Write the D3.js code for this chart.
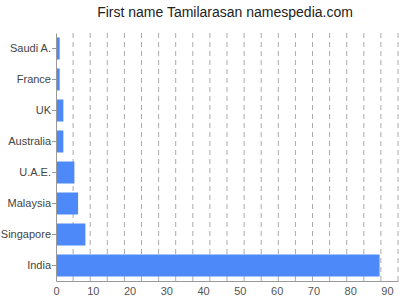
<!DOCTYPE html>
<html>
<head>
<meta charset="utf-8">
<script src="https://d3js.org/d3.v7.min.js"></script>
<style>
  body { margin: 0; background: #fff; }
  text { font-family: "Liberation Sans", Arial, sans-serif; }
</style>
</head>
<body>
<svg id="drawing_region"></svg>
<script>
var countries = ['Saudi A.', 'France', 'UK', 'Australia', 'U.A.E.', 'Malaysia', 'Singapore', 'India'];
var counts = [1, 1, 2, 2, 5, 6, 8, 88];
var tick_values = [0, 10, 20, 30, 40, 50, 60, 70, 80, 90];
var x_max = 93;
var grid_count = 20;

var data = countries.map((c, i) => ({ label: c, value: counts[i] }));

var config = {
    parent: '#drawing_region',
    width: 400,
    height: 300,
    margin: {top:33, right:2, bottom:19, left:56}
};

class BarChart {
    constructor( config, data ) {
        this.config = config;
        this.data = data;
        this.init();
    }

    init() {
        let self = this;

        self.svg = d3.select( self.config.parent )
            .attr('width', self.config.width)
            .attr('height', self.config.height);

        self.chart = self.svg.append('g')
            .attr('transform', `translate(${self.config.margin.left}, ${self.config.margin.top})`);

        self.inner_width = self.config.width - self.config.margin.left - self.config.margin.right;
        self.inner_height = self.config.height - self.config.margin.top - self.config.margin.bottom;

        self.xscale = d3.scaleLinear()
            .domain([0, x_max])
            .range([0, self.inner_width]);

        self.yscale = d3.scaleBand()
            .domain(self.data.map(d => d.label))
            .range([0, self.inner_height])
            .paddingInner(0.29)
            .paddingOuter(0.145);

        self.svg.append('text')
            .attr('x', 225)
            .attr('y', 17)
            .attr('text-anchor', 'middle')
            .attr('font-size', '14px')
            .attr('fill', '#222')
            .text('First name Tamilarasan namespedia.com');
    }

    render() {
        let self = this;

        // dashed grid, 20 even steps across the plot
        const grid = d3.range(1, grid_count + 1).map(i => i * x_max / grid_count);
        self.chart.append('g')
            .selectAll('line')
            .data(grid)
            .join('line')
            .attr('x1', d => self.xscale(d))
            .attr('x2', d => self.xscale(d))
            .attr('y1', 0)
            .attr('y2', self.inner_height)
            .attr('stroke', '#aaa')
            .attr('stroke-dasharray', '5,4');

        self.chart.selectAll('rect')
            .data(self.data)
            .join('rect')
            .attr('x', 0)
            .attr('y', d => self.yscale(d.label))
            .attr('width', d => self.xscale(d.value))
            .attr('height', self.yscale.bandwidth())
            .attr('fill', '#4e89f9');

        const xaxis = d3.axisBottom(self.xscale)
            .tickValues(tick_values)
            .tickSize(0)
            .tickPadding(6);

        const xg = self.chart.append('g')
            .attr('transform', `translate(0, ${self.inner_height})`)
            .call(xaxis);
        xg.select('.domain').attr('stroke', '#999');
        xg.selectAll('text').attr('font-size', '11px').attr('fill', '#555')
            .attr('font-family', '"Liberation Sans", Arial, sans-serif');

        const yaxis = d3.axisLeft(self.yscale)
            .tickSize(4)
            .tickSizeOuter(0)
            .tickPadding(1);

        const yg = self.chart.append('g').call(yaxis);
        yg.select('.domain').attr('stroke', '#999');
        yg.selectAll('line').attr('stroke', '#999');
        yg.selectAll('text').attr('font-size', '11px').attr('fill', '#444')
            .attr('font-family', '"Liberation Sans", Arial, sans-serif');
    }
}

var bar_chart = new BarChart( config, data );
bar_chart.render();
</script>
</body>
</html>
